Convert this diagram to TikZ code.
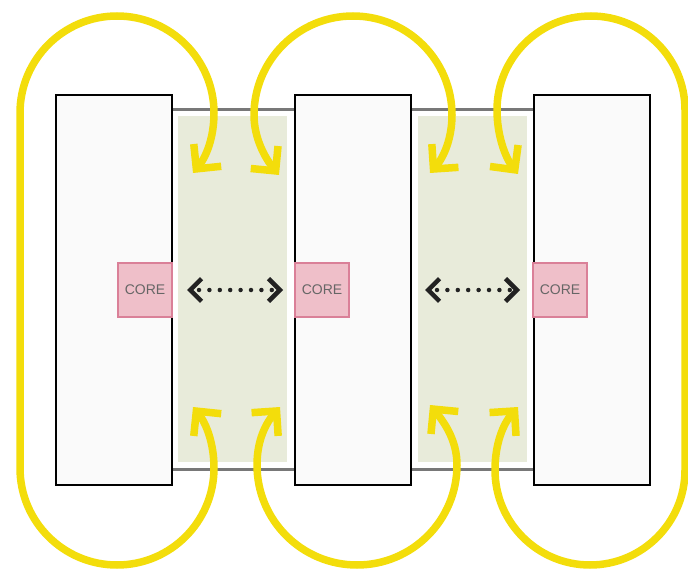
\documentclass[tikz,border=0pt]{standalone}
\usepackage{fontspec}
\setmainfont{Liberation Sans}
\usetikzlibrary{arrows.meta,calc}
\definecolor{ylw}{HTML}{F3DD0B}
\definecolor{boxfill}{HTML}{FAFAFA}
\definecolor{gapfill}{HTML}{E8EBDA}
\definecolor{corefill}{HTML}{EFBFC9}
\definecolor{coreline}{HTML}{DA8098}
\definecolor{coretext}{HTML}{666666}
\definecolor{linkgray}{HTML}{787878}
\definecolor{dotc}{HTML}{222222}
\begin{document}
\begin{tikzpicture}[x=1pt,y=-1pt,
  box/.style={draw=black, line width=2pt, fill=boxfill, minimum width=116pt, minimum height=389pt, inner sep=0pt, outer sep=0pt},
  gapzone/.style={fill=gapfill, draw=none, minimum width=109pt, minimum height=346pt, inner sep=0pt, outer sep=0pt},
  core/.style={draw=coreline, fill=corefill, line width=2.5pt, minimum size=54pt, inner sep=0pt, outer sep=0pt, font=\fontsize{14}{14}\selectfont, text=coretext},
  link/.style={draw=linkgray, line width=2.5pt, shorten <=1pt, shorten >=1pt},
  ring/.style={draw=ylw, line width=7.5pt, {Straight Barb[angle=90:25pt,sharp]}-{Straight Barb[angle=90:25pt,sharp]}},
  dotline/.style={draw=dotc, line width=4.5pt, line cap=round, dash pattern=on 0pt off 10.4pt},
  chevrons/.style={draw=dotc, line width=4.5pt, line cap=butt, dash pattern=on 0pt off 2000pt, {Straight Barb[angle=90:16pt,sharp]}-{Straight Barb[angle=90:16pt,sharp]}}
]
\useasboundingbox (0,0) rectangle (688,572);
\clip (0,0) rectangle (688,572);
% shaded gaps
\node[gapzone] (g1) at (232.5,289) {};
\node[gapzone] (g2) at (472.5,289) {};
% tall boxes
\node[box] (r1) at (114,290) {};
\node[box] (r2) at (353,290) {};
\node[box] (r3) at (591.5,290) {};
% cores
\node[core] (c1) at (145,290) {CORE};
\node[core] (c2) at (322,290) {CORE};
\node[core] (c3) at (560,290) {CORE};
% grey links
\draw[link] ([yshift=-14pt]r1.north east) -- ([yshift=-14pt]r2.north west);
\draw[link] ([yshift=-14pt]r2.north east) -- ([yshift=-14pt]r3.north west);
\draw[link] ([yshift=15pt]r1.south east) -- ([yshift=15pt]r2.south west);
\draw[link] ([yshift=15pt]r2.south east) -- ([yshift=15pt]r3.south west);
% dotted arrows
\draw[dotline, shorten <=27pt, shorten >=22pt] (c1.east) -- (c2.west);
\draw[chevrons, shorten <=15pt, shorten >=12pt] (c1.east) -- (c2.west);
\draw[dotline, shorten <=26pt, shorten >=23pt] (r2.east) -- (c3.west);
\draw[chevrons, shorten <=14pt, shorten >=13pt] (r2.east) -- (c3.west);
% yellow loops
\draw[ring] (193,173) .. controls (206,157) and (214,138) .. (214,113)
  arc[start angle=0, end angle=180, radius=97pt] -- (20,468)
  arc[start angle=180, end angle=360, radius=97pt]
  .. controls (214,443) and (206,423) .. (193,407);
\draw[ring] (279,175) .. controls (265,158) and (254,138) .. (254,115)
  arc[start angle=180, end angle=0, radius=99pt]
  .. controls (452,138) and (444,157) .. (430,173);
\draw[ring] (280,407) .. controls (266,423) and (257,440) .. (257,465)
  arc[start angle=180, end angle=360, radius=100pt]
  .. controls (457,440) and (444,422) .. (430,405);
\draw[ring] (518,174) .. controls (505,157) and (497,135) .. (497,110)
  arc[start angle=180, end angle=0, radius=94pt] -- (685,470)
  arc[start angle=0, end angle=-180, radius=95pt]
  .. controls (495,444) and (503,424) .. (518,407);
\end{tikzpicture}
\end{document}
